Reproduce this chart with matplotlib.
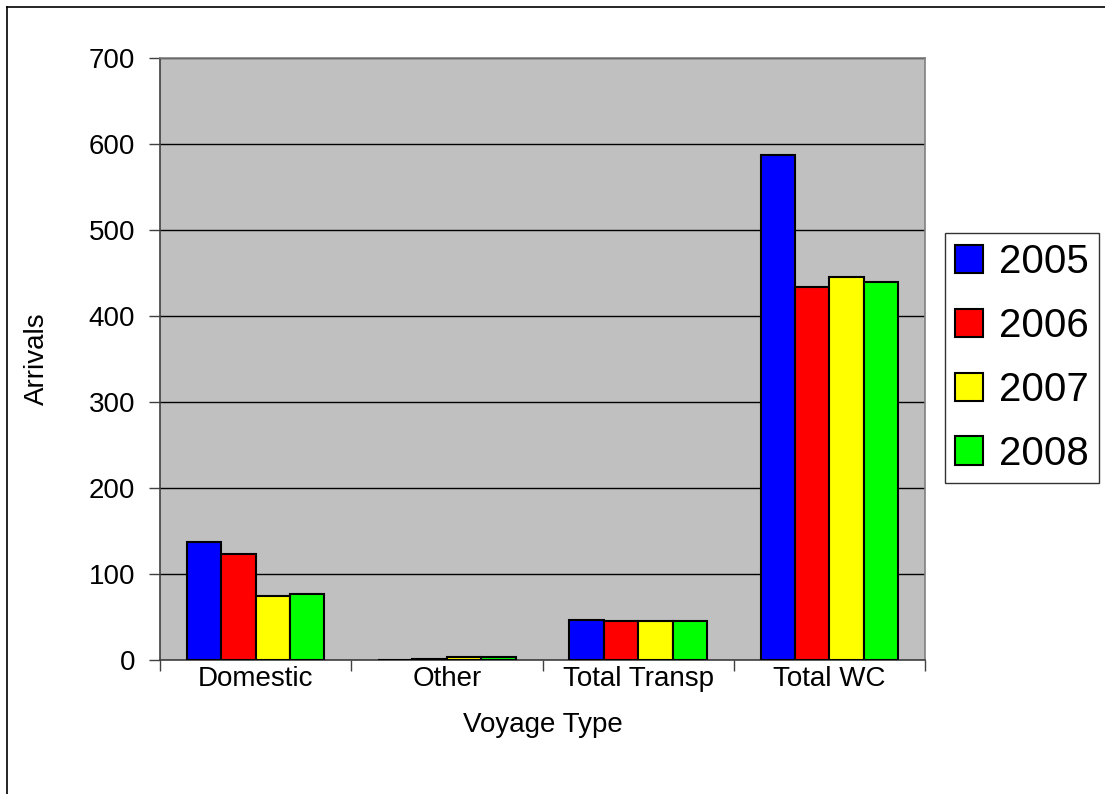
import matplotlib
matplotlib.use("Agg")
import matplotlib.pyplot as plt
from matplotlib.lines import Line2D
import numpy as np

plt.rcParams['font.family'] = ['Liberation Sans', 'DejaVu Sans']

categories = ["Domestic", "Other", "Total Transp", "Total WC"]
years = ["2005", "2006", "2007", "2008"]
arrivals_2005 = [137, 0, 47, 587]
arrivals_2006 = [123, 1.5, 45, 434]
arrivals_2007 = [74, 4, 45, 445]
arrivals_2008 = [77, 4, 45, 439]
colors = ["#0000ff", "#ff0000", "#ffff00", "#00ff00"]

series = [arrivals_2005, arrivals_2006, arrivals_2007, arrivals_2008]

fig = plt.figure(figsize=(11.05, 7.94), dpi=100)
ax = fig.add_axes([160 / 1105, 1 - 660 / 794, 765 / 1105, 602 / 794])
ax.set_facecolor("#c0c0c0")

x = np.arange(len(categories))
w = 0.18
for i, vals in enumerate(series):
    ax.bar(x + (i - 1.5) * w, vals, w, color=colors[i], edgecolor="black",
           linewidth=1.5, label=years[i], zorder=3)

ax.set_xlim(-0.5, len(categories) - 0.5)
ax.set_ylim(0, 700)
ax.set_yticks(range(0, 701, 100))
ax.yaxis.grid(True, color="black", linewidth=1)
ax.set_axisbelow(True)

ax.set_xticks(x)
ax.set_xticklabels(categories)
ax.set_xticks(np.arange(-0.5, len(categories), 1), minor=True)
ax.tick_params(axis="x", which="major", length=0, pad=4, labelsize=20)
ax.tick_params(axis="x", which="minor", length=8, width=1, color="#404040")
ax.tick_params(axis="y", length=8, width=1, color="#404040", labelsize=20, pad=10)

for s in ax.spines.values():
    s.set_color("#808080")
    s.set_linewidth(1.2)
ax.spines["left"].set_color("#404040")
ax.spines["bottom"].set_color("#404040")

ax.set_xlabel("Voyage Type", fontsize=20, labelpad=15)
ax.set_ylabel("Arrivals", fontsize=20, labelpad=28)

leg = fig.legend(loc="center left", bbox_to_anchor=(945 / 1105, 1 - 358 / 794),
                 fontsize=29, frameon=True, fancybox=False, borderaxespad=0,
                 handlelength=0.7, handleheight=0.7, handletextpad=0.4,
                 labelspacing=0.64, borderpad=0.25)
leg.get_frame().set_edgecolor("black")
leg.get_frame().set_linewidth(1)

fig.add_artist(Line2D([7 / 1105, 7 / 1105], [0, 1 - 7 / 794], color="black",
                      linewidth=1.2, transform=fig.transFigure))
fig.add_artist(Line2D([7 / 1105, 1], [1 - 7 / 794, 1 - 7 / 794], color="black",
                      linewidth=1.2, transform=fig.transFigure))

fig.savefig("out.png", dpi=100)
